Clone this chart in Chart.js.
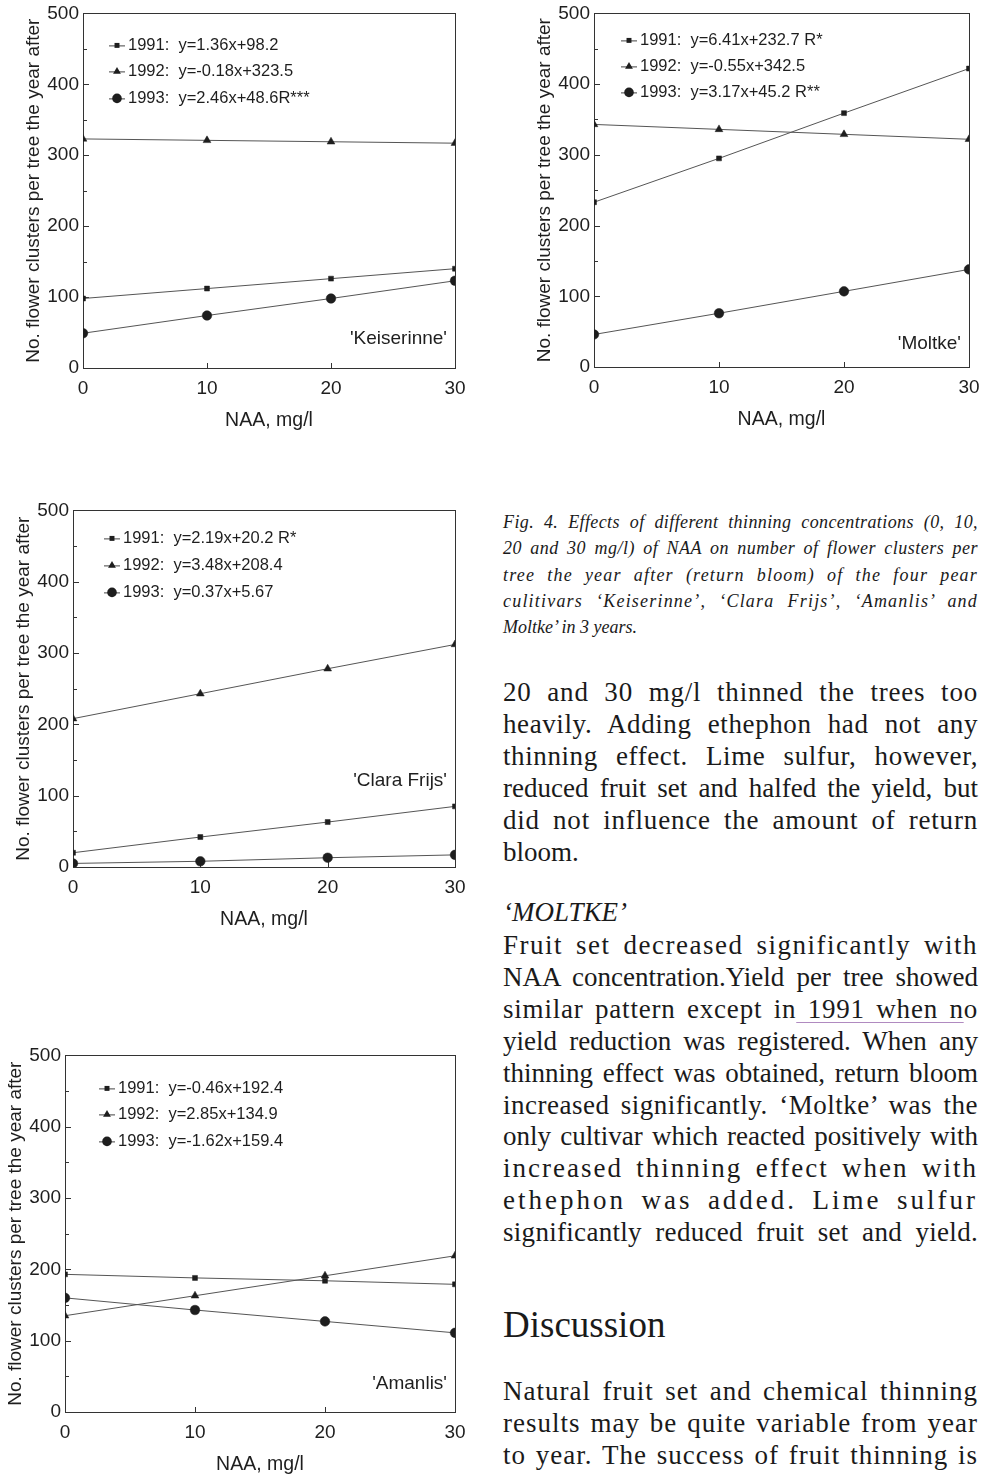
<!DOCTYPE html>
<html>
<head>
<meta charset="utf-8">
<script src="https://cdn.jsdelivr.net/npm/chart.js@4.4.1/dist/chart.umd.min.js"></script>
<style>
  body { margin: 0; background: #fff; }
  #page { position: relative; width: 982px; height: 1475px; overflow: hidden; }
  .plot { position: absolute; }
  .txt { position: absolute; left: 503px; width: 475px; font-family: "Liberation Serif", "Times New Roman", serif; color: #1a1a1a; }
  .txt div { text-align: justify; text-align-last: justify; }
  .txt div.end { text-align-last: left; }
  .cap { font-style: italic; font-size: 18px; line-height: 26.3px; }
  .body { font-size: 27px; line-height: 31.9px; }
  .mark { text-decoration: underline; text-decoration-color: #b08ac0; text-decoration-thickness: 1px; text-underline-offset: 4px; }
</style>
</head>
<body>
<div id="page">
  <canvas id="c1" class="plot" width="477" height="434" style="left:0px;top:-2px"></canvas>
  <canvas id="c2" class="plot" width="480" height="433" style="left:511px;top:-2px"></canvas>
  <canvas id="c3" class="plot" width="487" height="436" style="left:-10px;top:495px"></canvas>
  <canvas id="c4" class="plot" width="495" height="436" style="left:-18px;top:1040px"></canvas>

  <div class="txt cap" style="top:509px">
    <div style="letter-spacing:0.4px">Fig. 4. Effects of different thinning concentrations (0, 10,</div>
    <div style="letter-spacing:0.5px">20 and 30 mg/l) of NAA on number of flower clusters per</div>
    <div style="letter-spacing:1.2px">tree the year after (return bloom) of the four pear</div>
    <div style="letter-spacing:1.2px">culitivars ‘Keiserinne’, ‘Clara Frijs’, ‘Amanlis’ and</div>
    <div class="end">Moltke’ in 3 years.</div>
  </div>

  <div class="txt body" style="top:677px">
    <div style="letter-spacing:0.8px">20 and 30 mg/l thinned the trees too</div>
    <div style="letter-spacing:0.6px">heavily. Adding ethephon had not any</div>
    <div style="letter-spacing:0.6px">thinning effect. Lime sulfur, however,</div>
    <div>reduced fruit set and halfed the yield, but</div>
    <div style="letter-spacing:0.8px">did not influence the amount of return</div>
    <div class="end">bloom.</div>
  </div>

  <div class="txt body" style="top:897px;font-style:italic">‘MOLTKE’</div>

  <div class="txt body" style="top:930px">
    <div style="letter-spacing:1.5px">Fruit set decreased significantly with</div>
    <div>NAA concentration.Yield per tree showed</div>
    <div style="letter-spacing:0.8px">similar pattern except in<span class="mark"> 1991 when n</span>o</div>
    <div>yield reduction was registered. When any</div>
    <div>thinning effect was obtained, return bloom</div>
    <div style="letter-spacing:0.5px">increased significantly. ‘Moltke’ was the</div>
    <div>only cultivar which reacted positively with</div>
    <div style="letter-spacing:2px">increased thinning effect when with</div>
    <div style="letter-spacing:3px">ethephon was added. Lime sulfur</div>
    <div style="letter-spacing:0.3px">significantly reduced fruit set and yield.</div>
  </div>

  <div class="txt" style="top:1301px;font-size:37px;line-height:48px">Discussion</div>

  <div class="txt body" style="top:1376px">
    <div style="letter-spacing:1px">Natural fruit set and chemical thinning</div>
    <div style="letter-spacing:1px">results may be quite variable from year</div>
    <div style="letter-spacing:1px">to year. The success of fruit thinning is</div>
  </div>
</div>

<script>
(() => {
  'use strict'

  // NAA concentration, mg/l
  const naa = [0, 10, 20, 30]
  const years = ['1991', '1992', '1993']

  const keiserinne1991 = [98, 112, 126, 140]
  const keiserinne1992 = [323, 321, 319, 317]
  const keiserinne1993 = [49, 74, 98, 123]
  const keiserinneEq = ['y=1.36x+98.2', 'y=-0.18x+323.5', 'y=2.46x+48.6R***']

  const moltke1991 = [233, 295, 359, 422]
  const moltke1992 = [343, 336, 329, 322]
  const moltke1993 = [46, 76, 107, 138]
  const moltkeEq = ['y=6.41x+232.7 R*', 'y=-0.55x+342.5', 'y=3.17x+45.2 R**']

  const clara1991 = [20, 42, 63, 85]
  const clara1992 = [208, 243, 278, 312]
  const clara1993 = [5, 8, 13, 17]
  const claraEq = ['y=2.19x+20.2 R*', 'y=3.48x+208.4', 'y=0.37x+5.67']

  const amanlis1991 = [193, 188, 184, 179]
  const amanlis1992 = [135, 163, 191, 219]
  const amanlis1993 = [160, 143, 127, 111]
  const amanlisEq = ['y=-0.46x+192.4', 'y=2.85x+134.9', 'y=-1.62x+159.4']

  const yTitle = 'No. flower clusters per tree the year after'
  const xTitle = 'NAA, mg/l'

  const ink = '#1e1e1e'
  const sans = '"Liberation Sans", Arial, sans-serif'
  const styles = [
    { pointStyle: 'rect', radius: 3.5 },
    { pointStyle: 'triangle', radius: 4.5 },
    { pointStyle: 'circle', radius: 4.8 },
  ]

  function drawMarker(ctx, style, x, y) {
    const r = style.radius
    ctx.beginPath()
    if (style.pointStyle === 'rect') {
      const s = r * Math.SQRT1_2
      ctx.rect(x - s, y - s, 2 * s, 2 * s)
    } else if (style.pointStyle === 'triangle') {
      ctx.moveTo(x, y - r)
      ctx.lineTo(x + r * 0.866, y + r * 0.5)
      ctx.lineTo(x - r * 0.866, y + r * 0.5)
      ctx.closePath()
    } else {
      ctx.arc(x, y, r, 0, Math.PI * 2)
    }
    ctx.fill()
  }

  // box, inward ticks, legend and cultivar name
  const frame = {
    id: 'frame',
    beforeDatasetsDraw(chart) {
      const { ctx, chartArea: a, scales: { x, y } } = chart
      ctx.save()
      ctx.strokeStyle = '#333'
      ctx.lineWidth = 1
      ctx.strokeRect(Math.round(a.left) + 0.5, Math.round(a.top) + 0.5,
        Math.round(a.right - a.left), Math.round(a.bottom - a.top))
      ctx.beginPath()
      for (let v = 50; v < 500; v += 50) {
        const py = Math.round(y.getPixelForValue(v)) + 0.5
        ctx.moveTo(a.left, py)
        ctx.lineTo(a.left + (v % 100 ? 4 : 6), py)
      }
      naa.forEach(v => {
        const px = Math.round(x.getPixelForValue(v)) + 0.5
        ctx.moveTo(px, a.bottom)
        ctx.lineTo(px, a.bottom - 5)
      })
      ctx.stroke()
      ctx.restore()
    },
    afterDraw(chart) {
      const { ctx, chartArea: a } = chart
      const o = chart.options.plugins.frame
      ctx.save()
      ctx.font = '16.5px ' + sans
      ctx.textBaseline = 'middle'
      ctx.textAlign = 'left'
      years.forEach((yr, i) => {
        const ly = a.top + o.rows[i]
        const lx = a.left + o.legendX
        ctx.strokeStyle = '#444'
        ctx.lineWidth = 1
        ctx.beginPath()
        ctx.moveTo(lx - 19, ly + 0.5)
        ctx.lineTo(lx - 3, ly + 0.5)
        ctx.stroke()
        ctx.fillStyle = ink
        drawMarker(ctx, styles[i], lx - 11, ly)
        ctx.fillText(yr + ':  ' + o.eqs[i], lx, ly)
      })
      ctx.font = '19px ' + sans
      ctx.textAlign = 'right'
      ctx.fillText(o.name, a.right - 8, a.bottom - o.nameUp)
      ctx.restore()
    }
  }

  function makeChart(id, series, eqs, name, lay) {
    const ctx = document.getElementById(id)
    return new Chart(ctx, {
      type: 'line',
      plugins: [frame],
      data: {
        datasets: series.map((vals, i) => ({
          label: years[i],
          data: naa.map((x, j) => ({ x: x, y: vals[j] })),
          borderColor: '#555',
          borderWidth: 1,
          lineTension: 0,
          pointStyle: styles[i].pointStyle,
          pointRadius: styles[i].radius,
          pointBackgroundColor: ink,
          pointBorderColor: ink,
          pointBorderWidth: 0.5,
          fill: false,
        }))
      },
      options: {
        responsive: false,
        animation: false,
        layout: { padding: { left: 22, top: 13, right: 22, bottom: 0 } },
        plugins: {
          legend: { display: false },
          tooltip: { enabled: false },
          frame: { eqs: eqs, name: name, rows: lay.rows, legendX: lay.legendX, nameUp: lay.nameUp },
        },
        scales: {
          x: {
            type: 'linear',
            min: 0,
            max: 30,
            grid: { display: false, drawTicks: false },
            border: { display: false },
            ticks: { stepSize: 10, padding: 9, color: ink, font: { family: sans, size: 19 } },
            title: { display: true, text: xTitle, color: ink, padding: 0, font: { family: sans, size: 19.5 } },
            afterFit: s => { s.height = 64 },
          },
          y: {
            min: 0,
            max: 500,
            grid: { display: false, drawTicks: false },
            border: { display: false },
            ticks: { stepSize: 100, padding: 4, color: ink, font: { family: sans, size: 19 } },
            title: { display: true, text: yTitle, color: ink, padding: 0, font: { family: sans, size: 19 } },
            afterFit: s => { s.width = 61 },
          },
        },
      }
    })
  }

  makeChart('c1', [keiserinne1991, keiserinne1992, keiserinne1993], keiserinneEq, "'Keiserinne'",
    { rows: [32, 58, 85], legendX: 45, nameUp: 29 })
  makeChart('c2', [moltke1991, moltke1992, moltke1993], moltkeEq, "'Moltke'",
    { rows: [27, 53, 79], legendX: 46, nameUp: 23 })
  makeChart('c3', [clara1991, clara1992, clara1993], claraEq, "'Clara Frijs'",
    { rows: [28, 55, 82], legendX: 50, nameUp: 86 })
  makeChart('c4', [amanlis1991, amanlis1992, amanlis1993], amanlisEq, "'Amanlis'",
    { rows: [33, 59, 86], legendX: 53, nameUp: 28 })
})()
</script>
</body>
</html>
